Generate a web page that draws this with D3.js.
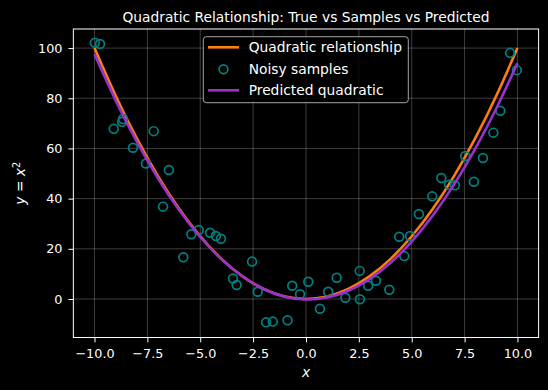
<!DOCTYPE html>
<html><head><meta charset="utf-8">
<script src="https://cdn.jsdelivr.net/npm/d3@7"></script>
<style>
body{margin:0;background:#000}
svg{display:block}
text{font-family:"DejaVu Sans",sans-serif;fill:#fff}
</style>
</head><body>
<svg id="chart" width="548" height="390"></svg>
<script>
// ---- data ----
const sampleX = [-9.98,-9.74,-9.09,-8.70,-8.65,-8.18,-7.57,-7.20,-6.48,-6.76,-5.80,-5.42,-5.07,-4.54,-4.26,-4.02,-3.45,-3.28,-2.55,-2.28,-1.89,-1.57,-0.87,-0.65,-0.28,0.11,0.66,1.05,1.45,1.86,2.54,2.55,2.94,3.31,3.94,4.41,4.65,4.92,5.34,5.97,6.40,6.77,7.04,7.53,7.94,8.37,8.86,9.19,9.65,9.97];
const sampleY = [102.1,101.6,67.8,70.6,71.7,60.3,54.0,66.9,51.4,36.8,16.6,25.8,27.5,26.4,25.1,24.0,8.2,5.6,14.9,2.9,-9.3,-9.0,-8.5,5.3,1.9,6.9,-3.9,2.9,8.5,0.5,11.2,-0.1,5.3,7.3,3.7,24.8,17.1,25.1,33.9,40.9,48.2,45.5,45.3,57.0,46.7,56.2,66.3,75.0,98.1,91.2];
const curveX = [-10,-9,-8,-7,-6,-5,-4,-3,-2,-1,0,1,2,3,4,5,6,7,8,9,10];
const trueY = [100,81,64,49,36,25,16,9,4,1,0,1,4,9,16,25,36,49,64,81,100];
const predY = [97.6,79.18,62.68,48.1,35.44,24.7,15.88,8.98,4.0,0.94,-0.2,0.58,3.28,7.9,14.44,22.9,33.28,45.58,59.8,75.94,94.0];
const xTicks = [-10,-7.5,-5,-2.5,0,2.5,5,7.5,10];
const yTicks = [0,20,40,60,80,100];
const seriesNames = ["Quadratic relationship","Noisy samples","Predicted quadratic"];
const titleText = "Quadratic Relationship: True vs Samples vs Predicted";

// ---- layout ----
const svg = d3.select("#chart");
const L = 73.35, R = 538.6, T = 29, B = 337.5;
const x = d3.scaleLinear().domain([-11, 11]).range([L, R]);
const y = d3.scaleLinear().domain([-15.34, 107.6]).range([B, T]);
const FS = 12.8, FL = 13.8;
const fmtX = d => (d < 0 ? "\u2212" : "") + Math.abs(d).toFixed(1);
const fmtY = d => (d < 0 ? "\u2212" : "") + Math.abs(d);

svg.append("rect").attr("width",548).attr("height",390).attr("fill","#000");

// grid
const grid = svg.append("g");
grid.selectAll(".gx").data(xTicks).enter().append("line")
  .attr("x1", d=>x(d)).attr("x2", d=>x(d)).attr("y1", T).attr("y2", B)
  .attr("stroke","#fff").attr("stroke-opacity",0.3).attr("stroke-width",0.8);
grid.selectAll(".gy").data(yTicks).enter().append("line")
  .attr("y1", d=>y(d)).attr("y2", d=>y(d)).attr("x1", L).attr("x2", R)
  .attr("stroke","#fff").attr("stroke-opacity",0.3).attr("stroke-width",0.8);

// axes
const xAxis = svg.append("g").attr("transform",`translate(0,${B})`)
  .call(d3.axisBottom(x).tickValues(xTicks).tickFormat(fmtX).tickSize(4.9).tickPadding(6.6));
const yAxis = svg.append("g").attr("transform",`translate(${L},0)`)
  .call(d3.axisLeft(y).tickValues(yTicks).tickFormat(fmtY).tickSize(4.9).tickPadding(6));
[xAxis,yAxis].forEach(a=>{
  a.select(".domain").remove();
  a.selectAll("line").attr("stroke","#fff").attr("stroke-width",1);
  a.selectAll("text").attr("font-family","DejaVu Sans").attr("font-size",FS).attr("fill","#fff");
});

// lines
const lineGen = (ys) => d3.line().x((d,i)=>x(curveX[i])).y((d,i)=>y(ys[i])).curve(d3.curveNatural)(curveX);
svg.append("path").attr("d", lineGen(trueY)).attr("fill","none").attr("stroke","#ff7f0e").attr("stroke-width",2.6);
svg.append("g").selectAll("circle").data(sampleX).enter().append("circle")
  .attr("cx",(d)=>x(d)).attr("cy",(d,i)=>y(sampleY[i])).attr("r",4.4)
  .attr("fill","none").attr("stroke","#008080").attr("stroke-width",1.7);
svg.append("path").attr("d", lineGen(predY)).attr("fill","none").attr("stroke","#9932cc").attr("stroke-width",2.6);

// spines
svg.append("rect").attr("x",L).attr("y",T).attr("width",R-L).attr("height",B-T)
  .attr("fill","none").attr("stroke","#fff").attr("stroke-width",1);

// title
svg.append("text").attr("x",(L+R)/2).attr("y",21.5).attr("text-anchor","middle")
  .attr("font-size",FL).text(titleText);

// x label
svg.append("text").attr("x",(L+R)/2).attr("y",377).attr("text-anchor","middle")
  .attr("font-size",FL).attr("font-style","italic").text("x");

// y label
const yl = svg.append("text").attr("transform",`translate(25,${(T+B)/2}) rotate(-90)`)
  .attr("text-anchor","middle").attr("font-size",FL);
yl.append("tspan").attr("font-style","italic").text("y");
yl.append("tspan").text(" = ");
yl.append("tspan").attr("font-style","italic").text("x");
yl.append("tspan").attr("font-size",FL*0.7).attr("dy",-5.5).text("2");

// legend
const lg = svg.append("g");
lg.append("rect").attr("x",203.3).attr("y",36.7).attr("width",205).attr("height",66)
  .attr("rx",3).attr("fill","#000").attr("fill-opacity",0.8)
  .attr("stroke","#ccc").attr("stroke-opacity",0.8).attr("stroke-width",1);
const rowsY = [47.3, 69.3, 90.3];
lg.append("line").attr("x1",208).attr("x2",239).attr("y1",rowsY[0]).attr("y2",rowsY[0]).attr("stroke","#ff7f0e").attr("stroke-width",2.6);
lg.append("circle").attr("cx",223.5).attr("cy",rowsY[1]).attr("r",4.4).attr("fill","none").attr("stroke","#008080").attr("stroke-width",1.7);
lg.append("line").attr("x1",208).attr("x2",239).attr("y1",rowsY[2]).attr("y2",rowsY[2]).attr("stroke","#9932cc").attr("stroke-width",2.6);
seriesNames.forEach((n,i)=>{
  lg.append("text").attr("x",248.7).attr("y",rowsY[i]).attr("dy","0.36em").attr("font-size",FL).text(n);
});
</script>
</body></html>
